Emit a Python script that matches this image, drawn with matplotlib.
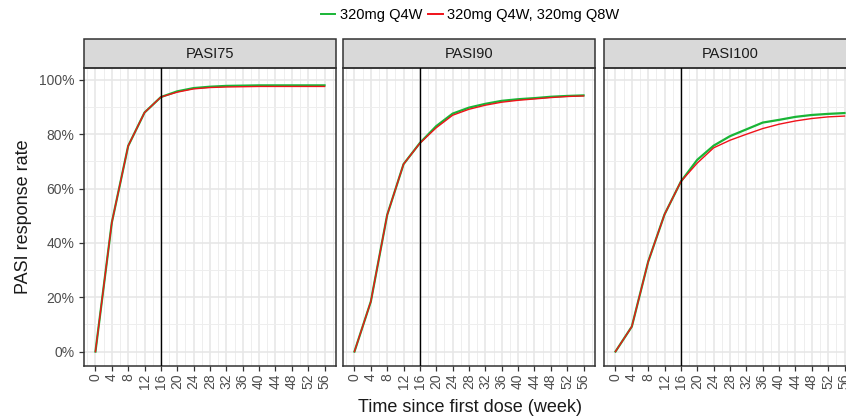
import numpy as np
import matplotlib.pyplot as plt
from matplotlib.patches import Rectangle
from matplotlib.ticker import MultipleLocator, PercentFormatter

plt.rcParams['font.family'] = ['Liberation Sans', 'DejaVu Sans']

# data (response rate in %)
weeks = [0, 4, 8, 12, 16, 20, 24, 28, 32, 36, 40, 44, 48, 52, 56]
panels = ['PASI75', 'PASI90', 'PASI100']

q4w = {
    'PASI75': [0, 47.5, 75.7, 88.0, 93.7, 95.8, 97.0, 97.5, 97.8, 97.9, 98.0, 98.0, 98.0, 98.0, 98.0],
    'PASI90': [0, 18.4, 50.3, 69.0, 76.8, 83.0, 87.6, 89.8, 91.2, 92.3, 92.9, 93.3, 93.8, 94.1, 94.3],
    'PASI100': [0, 9.2, 33.1, 50.5, 62.6, 70.6, 75.8, 79.3, 81.8, 84.3, 85.3, 86.4, 87.1, 87.5, 87.8],
}
q4w_q8w = {
    'PASI75': [0, 47.5, 75.7, 88.0, 93.7, 95.5, 96.7, 97.2, 97.4, 97.5, 97.6, 97.6, 97.6, 97.6, 97.6],
    'PASI90': [0, 18.4, 50.3, 69.0, 76.7, 82.4, 87.0, 89.2, 90.7, 91.8, 92.5, 93.0, 93.5, 93.9, 94.1],
    'PASI100': [0, 9.2, 33.1, 50.5, 62.6, 69.4, 75.0, 77.8, 80.0, 82.1, 83.7, 84.9, 85.8, 86.4, 86.7],
}
series_labels = ['320mg Q4W', '320mg Q4W, 320mg Q8W']
colors = ['#19B536', '#F0121A']

W, H = 846, 420
fig = plt.figure(figsize=(W / 100, H / 100), dpi=100)

lefts = [84, 343, 604]
pw = 252
bottom, top = 365.7, 67.7
strip_h = 28.4

for i, (name, left) in enumerate(zip(panels, lefts)):
    ax = fig.add_axes([left / W, (H - bottom) / H, pw / W, (bottom - top) / H])
    ax.plot(weeks, q4w[name], color=colors[0], lw=1.6, zorder=3)
    ax.plot(weeks, q4w_q8w[name], color=colors[1], lw=1.0, zorder=4)
    ax.axvline(16, color='black', lw=1.0, zorder=5)

    ax.set_xlim(-2.8, 58.8)
    ax.set_ylim(-5.2, 104.5)
    ax.xaxis.set_major_locator(MultipleLocator(4))
    ax.xaxis.set_minor_locator(MultipleLocator(2))
    ax.yaxis.set_major_locator(MultipleLocator(20))
    ax.yaxis.set_minor_locator(MultipleLocator(10))
    ax.yaxis.set_major_formatter(PercentFormatter(decimals=0))
    ax.grid(which='major', color='#E6E6E6', lw=1.1)
    ax.grid(which='minor', color='#EEEEEE', lw=0.7)
    ax.set_axisbelow(True)
    ax.tick_params(which='minor', length=0)
    ax.tick_params(which='major', length=3.5, color='#333333', width=0.9,
                   labelsize=10, labelcolor='#4D4D4D')
    ax.tick_params(axis='x', labelrotation=90, pad=2)
    for sp in ax.spines.values():
        sp.set_color('#333333')
        sp.set_linewidth(1.1)
    if i > 0:
        ax.tick_params(axis='y', labelleft=False, length=0)
    else:
        ax.set_ylabel('PASI response rate', fontsize=13, color='#1A1A1A', labelpad=5)

    sh = strip_h / (bottom - top)
    ax.add_patch(Rectangle((0, 1), 1, sh, transform=ax.transAxes, clip_on=False,
                           facecolor='#D9D9D9', edgecolor='#333333', lw=1.1))
    ax.text(0.5, 1 + sh / 2, name, transform=ax.transAxes, ha='center', va='center',
            fontsize=10.5, color='#1A1A1A')

fig.text(470 / W, 1 - 408 / H, 'Time since first dose (week)', ha='center', va='center',
         fontsize=13, color='#1A1A1A')

handles = [plt.Line2D([], [], color=c, lw=1.4) for c in colors]
fig.legend(handles, series_labels, loc='center', bbox_to_anchor=(470 / W, 1 - 15 / H),
           ncol=2, frameon=False, fontsize=10.5, handlelength=1.0, handletextpad=0.3,
           columnspacing=0.4)

fig.savefig('out.png', dpi=100)
